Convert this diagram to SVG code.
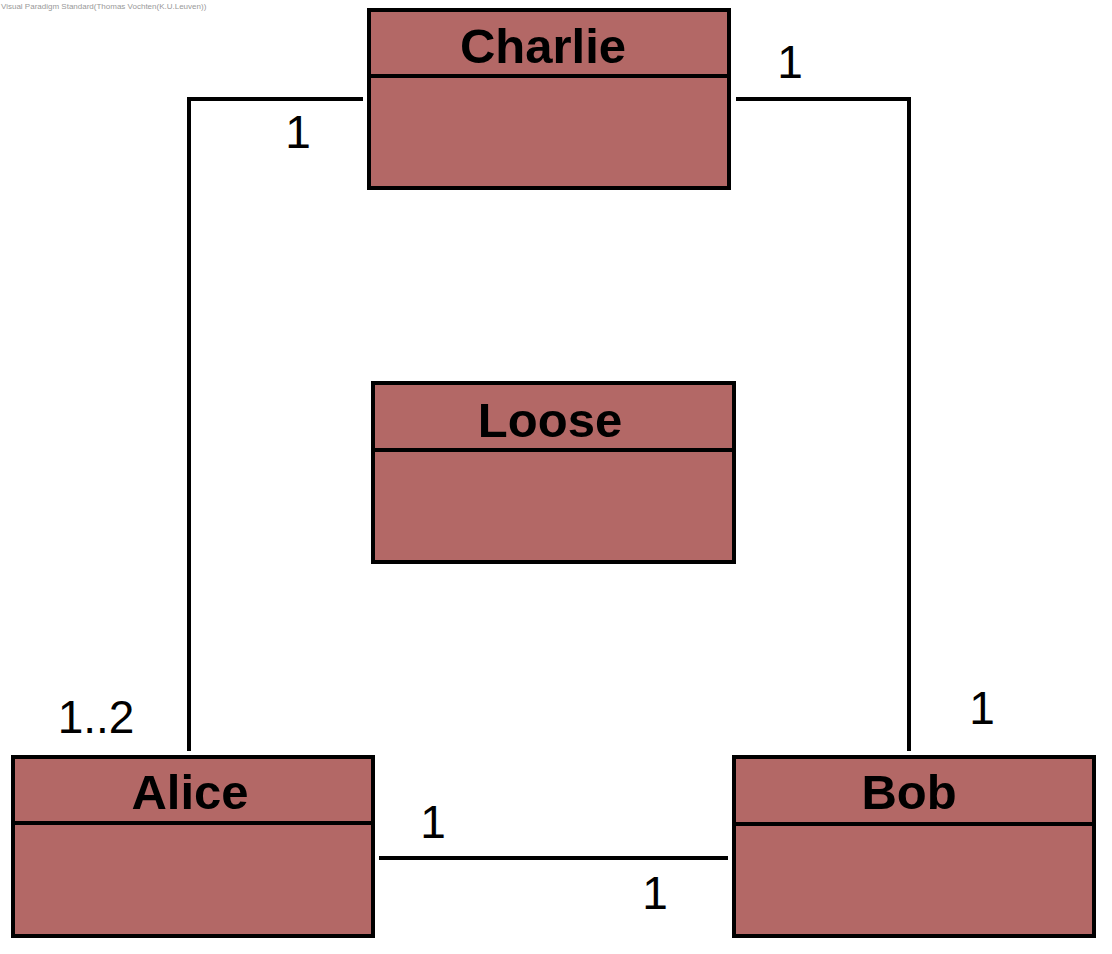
<svg xmlns="http://www.w3.org/2000/svg" width="1112" height="954" viewBox="0 0 1112 954">
<style>
.box{fill:#b36866;stroke:#000;stroke-width:4}
.div{stroke:#000;stroke-width:4}
.name{font-family:"Liberation Sans",Arial,sans-serif;font-weight:bold;font-size:49px;text-anchor:middle;fill:#000}
.mult{font-family:"Liberation Sans",Arial,sans-serif;font-size:46px;text-anchor:middle;fill:#000}
.conn{fill:none;stroke:#000;stroke-width:4}
</style>
<rect width="1112" height="954" fill="#fff"/>
<text x="1" y="9" font-family="Liberation Sans,Arial,sans-serif" font-size="8" fill="#999">Visual Paradigm Standard(Thomas Vochten(K.U.Leuven))</text>
<g id="connectors">
<polyline class="conn" points="363,99 189,99 189,751"/>
<polyline class="conn" points="736,99 909,99 909,751"/>
<line class="conn" x1="379" y1="858" x2="728" y2="858"/>
<text class="mult" x="298" y="148">1</text>
<text class="mult" x="790" y="78">1</text>
<text class="mult" x="96" y="733">1..2</text>
<text class="mult" x="982" y="724">1</text>
<text class="mult" x="433" y="838">1</text>
<text class="mult" x="655" y="909">1</text>
</g>
<g id="charlie">
<rect class="box" x="369" y="10" width="360" height="178"/>
<line class="div" x1="369" y1="76" x2="729" y2="76"/>
<text class="name" x="543" y="63">Charlie</text>
</g>
<g id="loose">
<rect class="box" x="373" y="383" width="361" height="179"/>
<line class="div" x1="373" y1="450" x2="734" y2="450"/>
<text class="name" x="550" y="437">Loose</text>
</g>
<g id="alice">
<rect class="box" x="13" y="757" width="360" height="179"/>
<line class="div" x1="13" y1="823" x2="373" y2="823"/>
<text class="name" x="190" y="809">Alice</text>
</g>
<g id="bob">
<rect class="box" x="734" y="757" width="360" height="179"/>
<line class="div" x1="734" y1="824" x2="1094" y2="824"/>
<text class="name" x="909" y="809">Bob</text>
</g>
</svg>
